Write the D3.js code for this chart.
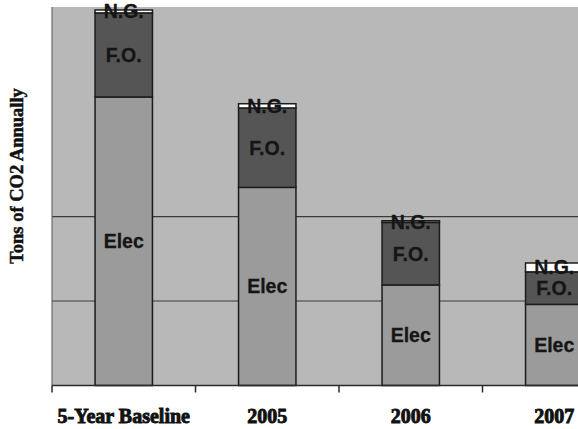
<!DOCTYPE html>
<html>
<head>
<meta charset="utf-8">
<script src="https://cdn.jsdelivr.net/npm/d3@7"></script>
<style>
  html, body { margin: 0; padding: 0; background: #fff; }
  svg { display: block; }
</style>
</head>
<body>
<svg id="chart" width="578" height="429"></svg>
<script>
// Annual CO2 emissions by energy source (tons)
const categories = ["5-Year Baseline", "2005", "2006", "2007"];
const elec = [3415, 2345, 1190, 960];
const fuelOil = [995, 940, 740, 385];
const naturalGas = [35, 50, 20, 105];
const seriesNames = ["Elec", "F.O.", "N.G."];
const gridTicks = [1000, 2000];

const W = 578, H = 429;
const plot = { left: 52, top: 7, right: 626, bottom: 385.5 };

const svg = d3.select("#chart");

const x = d3.scaleBand()
  .domain(categories)
  .range([plot.left, plot.right])
  .paddingInner(0.6)
  .paddingOuter(0.3);

const y = d3.scaleLinear()
  .domain([0, 4480])
  .range([plot.bottom, plot.top]);

const rows = categories.map((c, i) => ({
  cat: c, "Elec": elec[i], "F.O.": fuelOil[i], "N.G.": naturalGas[i]
}));
const stacked = d3.stack().keys(seriesNames)(rows);

const fills = { "Elec": "#9b9b9b", "F.O.": "#555555", "N.G.": "#ffffff" };

// plot background
svg.append("rect")
  .attr("x", plot.left).attr("y", plot.top)
  .attr("width", W - plot.left).attr("height", plot.bottom - plot.top)
  .attr("fill", "#b8b8b8");

// horizontal gridlines
svg.append("g")
  .selectAll("line")
  .data(gridTicks)
  .join("line")
  .attr("x1", plot.left).attr("x2", W)
  .attr("y1", d => y(d)).attr("y2", d => y(d))
  .attr("stroke", "#3a3a3a").attr("stroke-width", 1.2);

// stacked bars
const layer = svg.append("g")
  .selectAll("g")
  .data(stacked)
  .join("g")
  .attr("fill", d => fills[d.key]);

layer.selectAll("rect")
  .data(d => d.map(p => ({ key: d.key, p })))
  .join("rect")
  .attr("x", d => x(d.p.data.cat))
  .attr("width", x.bandwidth())
  .attr("y", d => y(d.p[1]))
  .attr("height", d => y(d.p[0]) - y(d.p[1]))
  .attr("stroke", "#1c1c1c")
  .attr("stroke-width", 1.5);

// segment labels
const labels = svg.append("g")
  .attr("font-family", "'Liberation Sans', Arial, sans-serif")
  .attr("font-weight", "bold")
  .attr("font-size", 19.5)
  .attr("fill", "#151515")
  .attr("stroke", "#151515")
  .attr("stroke-width", 0.3)
  .attr("text-anchor", "middle");

stacked.forEach(s => {
  s.forEach(p => {
    labels.append("text")
      .attr("x", x(p.data.cat) + x.bandwidth() / 2)
      .attr("y", (y(p[0]) + y(p[1])) / 2)
      .attr("dy", "0.36em")
      .text(s.key);
  });
});

// left edge of plot
svg.append("line")
  .attr("x1", plot.left).attr("x2", plot.left)
  .attr("y1", plot.top).attr("y2", plot.bottom)
  .attr("stroke", "#6a6a6a").attr("stroke-width", 1.2);

// category axis
const boundaries = categories.map(c => x(c) - x.step() * x.paddingInner() / 2);
boundaries[0] = plot.left;
const axisG = svg.append("g");
axisG.append("line")
  .attr("x1", plot.left).attr("x2", W)
  .attr("y1", plot.bottom).attr("y2", plot.bottom)
  .attr("stroke", "#2a2a2a").attr("stroke-width", 1.5);
axisG.selectAll("line.tick")
  .data(boundaries)
  .join("line")
  .attr("class", "tick")
  .attr("x1", d => d).attr("x2", d => d)
  .attr("y1", plot.bottom).attr("y2", plot.bottom + 7)
  .attr("stroke", "#2a2a2a").attr("stroke-width", 1.5);

axisG.selectAll("text")
  .data(categories)
  .join("text")
  .attr("x", d => x(d) + x.bandwidth() / 2)
  .attr("y", 423)
  .attr("text-anchor", "middle")
  .attr("font-family", "'Liberation Serif', 'Times New Roman', serif")
  .attr("font-weight", "bold")
  .attr("font-size", 20)
  .attr("fill", "#111")
  .attr("stroke", "#111")
  .attr("stroke-width", 0.9)
  .text(d => d);

// y axis title
svg.append("text")
  .attr("transform", "translate(23,176) rotate(-90)")
  .attr("text-anchor", "middle")
  .attr("font-family", "'Liberation Serif', 'Times New Roman', serif")
  .attr("font-weight", "bold")
  .attr("font-size", 18.5)
  .attr("fill", "#111")
  .attr("stroke", "#111")
  .attr("stroke-width", 0.5)
  .text("Tons of CO2 Annually");
</script>
</body>
</html>
